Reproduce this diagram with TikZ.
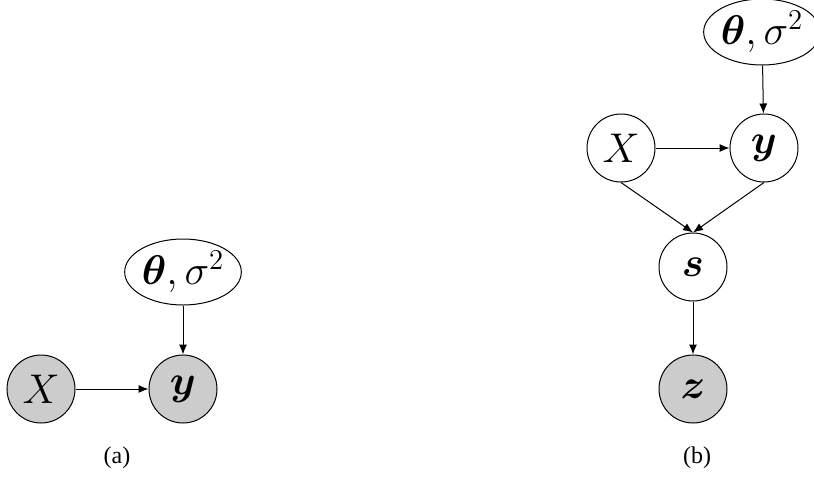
\documentclass[tikz,border=0pt]{standalone}
\usepackage{amsmath}
\usepackage{bm}
\usepackage[no-math]{fontspec}
\setmainfont{Liberation Serif}
\usetikzlibrary{shapes.geometric,arrows.meta,positioning}
\definecolor{obsgray}{RGB}{204,204,204}

\begin{document}
\begin{tikzpicture}[
  x=0.5pt, y=-0.5pt,
  var/.style={circle, draw, line width=0.5pt, minimum size=34pt, inner sep=0pt,
    font=\fontsize{21}{25}\selectfont},
  obs/.style={var, fill=obsgray},
  param/.style={ellipse, draw, line width=0.5pt, minimum width=53pt, minimum height=33pt,
    inner sep=0pt, font=\fontsize{21}{25}\selectfont},
  arr/.style={-{Latex[length=5pt,width=4pt]}, line width=0.5pt},
  caption/.style={font=\fontsize{12}{14}\selectfont}
]
\useasboundingbox (0,0) rectangle (814,477);

% (a)
\node[obs] (xa) at (41,389) {$X$};
\node[obs] (ya) at (183,389) {$\bm{y}$};
\node[param] (pa) at (183,272) {$\bm{\theta},\sigma^2$};
\node[caption] (capa) at (117,458) {(a)};

\draw[arr] (xa) -- (ya);
\draw[arr] (pa) -- (ya);

% (b)
\node[var] (xb) at (621,148) {$X$};
\node[var] (yb) at (764,148) {$\bm{y}$};
\node[param] (pb) at (762,32) {$\bm{\theta},\sigma^2$};
\node[var] (sb) at (693,267) {$\bm{s}$};
\node[obs] (zb) at (693,389) {$\bm{z}$};
\node[caption] (capb) at (697,458) {(b)};

\draw[arr] (xb) -- (yb);
\draw[arr] (pb) -- (yb);
\draw[arr] (xb.south) -- (sb.north);
\draw[arr] (yb.south) -- (sb.north);
\draw[arr] (sb) -- (zb);
\end{tikzpicture}
\end{document}
